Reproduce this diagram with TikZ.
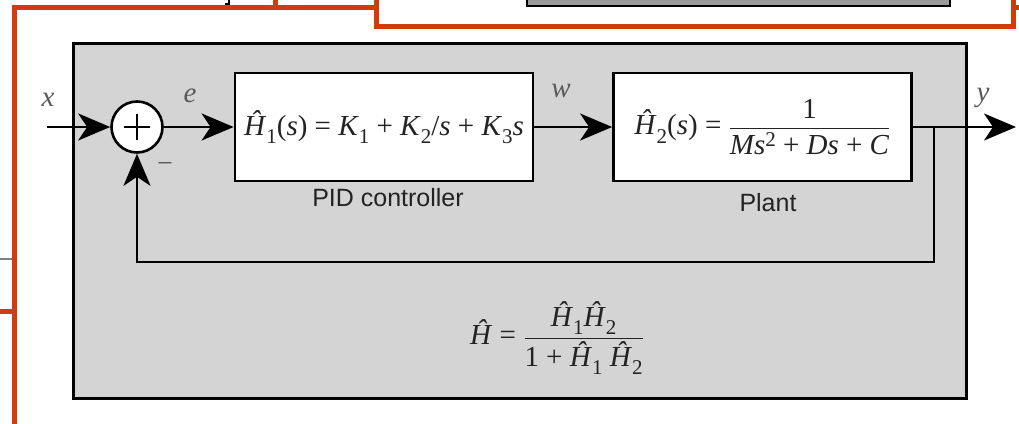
\documentclass[tikz,border=0pt]{standalone}
\usepackage{fontspec}
\usepackage{amsmath}
\setmainfont{Liberation Serif}
\newfontfamily\labelsans{Liberation Sans}
\usetikzlibrary{arrows.meta}
\definecolor{orng}{RGB}{210,60,10}
\definecolor{boxgray}{RGB}{212,212,212}
\definecolor{darkbox}{RGB}{155,155,155}
\definecolor{txtdark}{RGB}{35,35,35}
\definecolor{lblgray}{RGB}{90,90,90}
\newcommand{\Hh}{\textit{Ĥ}}
\newcommand{\lowsub}[1]{\raisebox{-0.28em}{\fontsize{21}{21}\selectfont #1}}
\newcommand{\hisup}[1]{\raisebox{0.3em}{\fontsize{21}{21}\selectfont #1}}
\newcommand{\pfrac}[2]{$\displaystyle\frac{\mbox{#1}}{\mbox{#2}}$}
\tikzset{
  orange line/.style={draw=orng, line width=5pt},
  frame box/.style={draw=black, fill=boxgray, line width=3pt, minimum width=893pt, minimum height=355pt, inner sep=0pt},
  blk/.style={draw=black, fill=white, line width=2.8pt, minimum width=298pt, minimum height=108pt, inner sep=0pt, font=\fontsize{29}{34}\selectfont, text=txtdark},
  sumnode/.style={circle, draw=black, fill=white, line width=2.6pt, minimum size=51pt, inner sep=0pt},
  sig/.style={draw=black, line width=2.5pt},
  arr/.style={sig, -{Stealth[length=32pt, width=27pt, inset=9pt]}},
  siglabel/.style={font=\fontsize{29}{30}\selectfont\itshape, text=lblgray},
  caption/.style={font=\labelsans\fontsize{25}{28}\selectfont, text=txtdark},
  formula/.style={font=\fontsize{29}{34}\selectfont, text=txtdark}
}
\begin{document}
\begin{tikzpicture}[x=1pt, y=-1pt]
\useasboundingbox (0,0) rectangle (1019,423);
% background fragments
\draw[gray, line width=1.5pt] (0,259) -- (14,259);
\draw[black, line width=1.2pt] (225,4) -- (229,4) -- (229,-2);
\draw[black, fill=darkbox, line width=2pt] (527,-5) rectangle (950,6);
% orange frames
\draw[orange line] (14.5,430) -- (14.5,7.5) -- (376.5,7.5);
\draw[orange line] (275,7.5) -- (275,-5);
\draw[orange line] (376.5,-5) -- (376.5,26.5) -- (1013.5,26.5) -- (1013.5,-5);
\draw[orange line] (1013.5,7.5) -- (1025,7.5);
\draw[orange line] (-5,311.5) -- (14.5,311.5);
% main frame
\node[frame box] (frame) at (519.5,220.5) {};
% blocks
\node[sumnode] (sum) at (137,127) {};
\draw[sig] ([xshift=-13pt]sum.center) -- ([xshift=13pt]sum.center);
\draw[sig] ([yshift=-13pt]sum.center) -- ([yshift=13pt]sum.center);
\node[blk] (pid) at (384,127) {\Hh\lowsub{1}(\textit{s}) = \textit{K}\lowsub{1} + \textit{K}\lowsub{2}/\textit{s} + \textit{K}\lowsub{3}\textit{s}};
\node[blk] (plant) at (762.5,127) {\Hh\lowsub{2}(\textit{s}) = \pfrac{1}{\textit{Ms}\hisup{2} + \textit{Ds} + \textit{C}}\hspace{6pt}};
\node[caption] (pidlbl) at (388,198) {PID controller};
\node[caption] (plantlbl) at (768,203) {Plant};
% coordinates
\coordinate (xin) at (47,127);
\coordinate (yout) at (1016,127);
\coordinate (tap) at (934,127);
\coordinate (fbr) at (934,262);
\coordinate (fbl) at (137,262);
% connectors
\draw[arr] (xin) -- (sum);
\draw[arr] (sum) -- (pid);
\draw[arr] (pid) -- (plant);
\draw[arr] (plant) -- (yout);
\draw[arr] (tap) -- (fbr) -- (fbl) -- (sum);
% labels
\node[siglabel] (lx) at (48,100) {x};
\node[siglabel] (le) at (190,96) {e};
\node[siglabel] (lw) at (561,91) {w};
\node[siglabel] (ly) at (983,98) {y};
\node[font=\fontsize{28}{28}\selectfont, text=lblgray] (minus) at (165,168) {−};
% closed-loop formula
\node[formula] (hform) at (557,338) {\Hh\ = \pfrac{\Hh\lowsub{1}\Hh\lowsub{2}}{1 + \Hh\lowsub{1} \Hh\lowsub{2}}};
\end{tikzpicture}
\end{document}
